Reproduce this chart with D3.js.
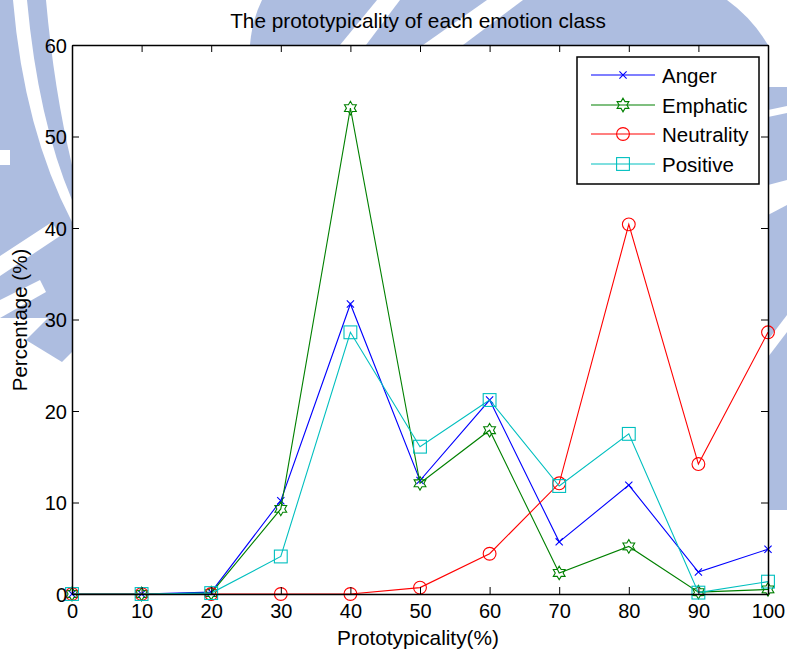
<!DOCTYPE html>
<html>
<head>
<meta charset="utf-8">
<script src="https://cdn.jsdelivr.net/npm/d3@7"></script>
<style>
  html, body { margin: 0; padding: 0; background: #fff; }
  svg { display: block; font-family: "Liberation Sans", Arial, sans-serif; }
</style>
</head>
<body>
<svg id="chart" width="787" height="651"></svg>
<script>
// Prototypicality bins (%)
const categories = [0, 10, 20, 30, 40, 50, 60, 70, 80, 90, 100];

// Percentage of each emotion class per bin
const anger      = [0, 0, 0.2, 10.2, 31.7, 12.4, 21.2, 5.7, 11.9, 2.4, 4.9];
const emphatic   = [0, 0, 0.1, 9.3, 53.1, 12.1, 17.9, 2.3, 5.2, 0.2, 0.5];
const neutrality = [0, 0, 0, 0, 0, 0.7, 4.4, 12.1, 40.4, 14.2, 28.6];
const positive   = [0, 0, 0.1, 4.1, 28.6, 16.1, 21.2, 11.8, 17.5, 0.15, 1.35];

const seriesNames = ["Anger", "Emphatic", "Neutrality", "Positive"];
const seriesValues = [anger, emphatic, neutrality, positive];
const seriesColors = ["#0000ff", "#008000", "#ff0000", "#00bfbf"];
const seriesMarkers = ["x", "hexagram", "circle", "square"];

const xTicks = [0, 10, 20, 30, 40, 50, 60, 70, 80, 90, 100];
const yTicks = [0, 10, 20, 30, 40, 50, 60];

const titleText = "The prototypicality of each emotion class";
const xLabel = "Prototypicality(%)";
const yLabel = "Percentage (%)";

(function draw() {
  const pLeft = 72, pRight = 768, pTop = 45, pBottom = 594;

  const svg = d3.select("#chart");
  const x = d3.scaleLinear().domain([0, 100]).range([pLeft, pRight]);
  const y = d3.scaleLinear().domain([0, 60]).range([pBottom, pTop]);

  // ---- light blue emblem behind the figure ----
  const wm = svg.append("g").attr("fill", "#adbde0");
  // left arcs
  wm.append("path").attr("d",
    "M0,0 L46,0 Q54,90 72,165 L72,318 L0,318 Z");
  // diamond near the y label
  wm.append("path").attr("d", "M48,318 L72,318 L72,352 L62,362 L26,340 Z");
  // top band
  wm.append("path").attr("d",
    "M262,0 L727,0 Q752,18 768,45 L250,45 Q252,20 262,0 Z");
  // right edge band
  wm.append("path").attr("d", "M768,87 L787,87 L787,510 L768,510 Z");

  const cut = svg.append("g").attr("fill", "#ffffff");
  // white arc stripe through the left arcs
  cut.append("path").attr("d", "M13,0 L27,0 Q38,120 72,200 L72,222 Q24,130 13,0 Z");
  // white bars lower left
  cut.append("path").attr("d", "M0,150 L10,150 L10,165 L0,165 Z");
  cut.append("path").attr("d", "M0,256 L52,222 L60,236 L0,276 Z");
  cut.append("path").attr("d", "M0,300 L40,280 L46,292 L0,318 Z");
  // diagonal cuts in the top band
  cut.append("path").attr("d", "M377,0 L400,0 L366,45 L340,45 Z");
  cut.append("path").attr("d", "M487,0 L523,0 L463,45 L423,45 Z");
  // gaps in the right edge band
  cut.append("path").attr("d", "M768,110 L787,106 L787,113 L768,117 Z");
  cut.append("path").attr("d", "M768,185 L787,180 L787,205 L768,215 Z");
  cut.append("path").attr("d", "M768,340 L787,315 L787,332 L768,357 Z");

  // ---- axes background ----
  svg.append("rect")
    .attr("x", pLeft).attr("y", pTop)
    .attr("width", pRight - pLeft).attr("height", pBottom - pTop)
    .attr("fill", "#ffffff");

  // ---- series lines and markers ----
  const line = d3.line().x((d, i) => x(categories[i])).y(d => y(d));

  function hexagramPath(r) {
    const ri = r * 0.58;
    const pts = [];
    for (let k = 0; k < 12; k++) {
      const a = -Math.PI / 2 + k * Math.PI / 6;
      const rr = k % 2 === 0 ? r : ri;
      pts.push([rr * Math.cos(a), rr * Math.sin(a)]);
    }
    return "M" + pts.map(p => p[0].toFixed(2) + "," + p[1].toFixed(2)).join("L") + "Z";
  }

  function drawMarker(g, type, color, cx, cy) {
    if (type === "x") {
      const s = 3.6;
      g.append("path")
        .attr("d", `M${cx - s},${cy - s}L${cx + s},${cy + s}M${cx - s},${cy + s}L${cx + s},${cy - s}`)
        .attr("stroke", color).attr("stroke-width", 1.1).attr("fill", "none");
    } else if (type === "hexagram") {
      g.append("path")
        .attr("d", hexagramPath(6.8))
        .attr("transform", `translate(${cx},${cy})`)
        .attr("stroke", color).attr("stroke-width", 1.1).attr("fill", "none");
    } else if (type === "circle") {
      g.append("circle").attr("cx", cx).attr("cy", cy).attr("r", 6.4)
        .attr("stroke", color).attr("stroke-width", 1.1).attr("fill", "none");
    } else if (type === "square") {
      const h = 6.4;
      g.append("rect").attr("x", cx - h).attr("y", cy - h)
        .attr("width", 2 * h).attr("height", 2 * h)
        .attr("stroke", color).attr("stroke-width", 1.1).attr("fill", "none");
    }
  }

  const plot = svg.append("g");
  seriesValues.forEach((vals, si) => {
    const g = plot.append("g");
    g.append("path").datum(vals)
      .attr("d", line)
      .attr("fill", "none")
      .attr("stroke", seriesColors[si])
      .attr("stroke-width", 1.1);
    vals.forEach((v, i) => drawMarker(g, seriesMarkers[si], seriesColors[si], x(categories[i]), y(v)));
  });

  // ---- axes (box with inward ticks) ----
  const tickLen = 7;
  const axes = svg.append("g");

  const gxb = axes.append("g").attr("transform", `translate(0,${pBottom})`)
    .call(d3.axisBottom(x).tickValues(xTicks).tickSizeInner(-tickLen).tickSizeOuter(0).tickPadding(12));
  const gxt = axes.append("g").attr("transform", `translate(0,${pTop})`)
    .call(d3.axisTop(x).tickValues(xTicks).tickSizeInner(-tickLen).tickSizeOuter(0).tickFormat(""));
  const gyl = axes.append("g").attr("transform", `translate(${pLeft},0)`)
    .call(d3.axisLeft(y).tickValues(yTicks).tickSizeInner(-tickLen).tickSizeOuter(0).tickPadding(12));
  const gyr = axes.append("g").attr("transform", `translate(${pRight},0)`)
    .call(d3.axisRight(y).tickValues(yTicks).tickSizeInner(-tickLen).tickSizeOuter(0).tickFormat(""));

  [gxb, gxt, gyl, gyr].forEach(g => {
    g.select(".domain").attr("stroke", "#000").attr("stroke-width", 1.5);
    g.selectAll(".tick line").attr("stroke", "#000").attr("stroke-width", 1);
    g.selectAll(".tick text")
      .attr("fill", "#000")
      .attr("font-size", 20)
      .attr("font-family", "'Liberation Sans', Arial, sans-serif");
  });
  gxb.selectAll(".tick text").attr("dy", "0.71em").attr("y", 10);
  gyl.selectAll(".tick text").attr("x", -5).attr("dy", "0.36em");

  // ---- titles ----
  svg.append("text")
    .attr("x", 418).attr("y", 28)
    .attr("text-anchor", "middle")
    .attr("font-size", 20.8)
    .text(titleText);

  svg.append("text")
    .attr("x", 418).attr("y", 645)
    .attr("text-anchor", "middle")
    .attr("font-size", 20.8)
    .text(xLabel);

  svg.append("text")
    .attr("transform", "translate(27,320) rotate(-90)")
    .attr("text-anchor", "middle")
    .attr("font-size", 20.5)
    .text(yLabel);

  // ---- legend ----
  const lg = svg.append("g");
  lg.append("rect")
    .attr("x", 577).attr("y", 57).attr("width", 182).attr("height", 127)
    .attr("fill", "#fff").attr("stroke", "#000").attr("stroke-width", 1.5);
  const legendY = [75, 105, 134, 164];
  seriesNames.forEach((name, si) => {
    const ly = legendY[si];
    lg.append("line")
      .attr("x1", 591).attr("x2", 655).attr("y1", ly).attr("y2", ly)
      .attr("stroke", seriesColors[si]).attr("stroke-width", 1.1);
    drawMarker(lg, seriesMarkers[si], seriesColors[si], 623, ly);
    lg.append("text")
      .attr("x", 662).attr("y", ly + 7.5)
      .attr("font-size", 20.5)
      .text(name);
  });
})();
</script>
</body>
</html>
